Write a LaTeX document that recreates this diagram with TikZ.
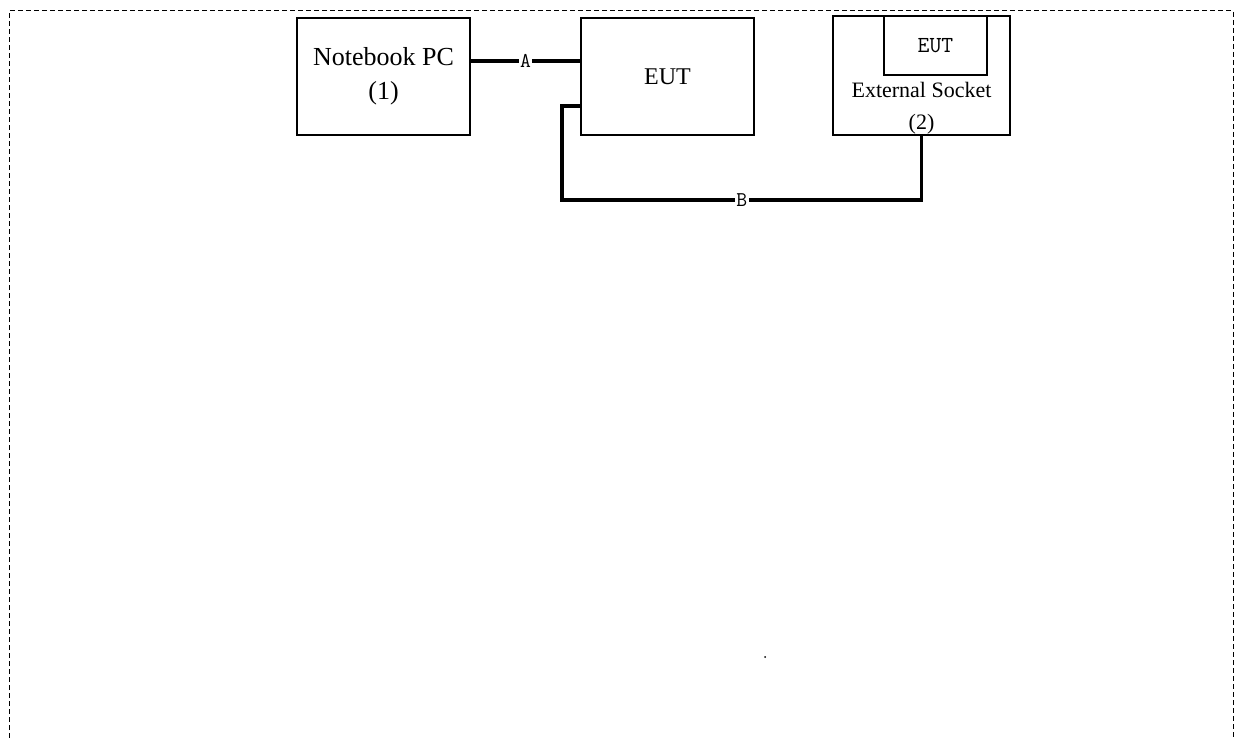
\documentclass[tikz,border=0pt]{standalone}
\usepackage{fontspec}
\setmainfont{Liberation Serif}
\begin{document}
\begin{tikzpicture}[x=1pt,y=-1pt,
  box/.style={draw,line width=1.3pt,rectangle,inner sep=0pt},
  conn/.style={line width=3.2pt},
  lbl/.style={fill=white,inner sep=1.5pt,font=\ttfamily\fontsize{21}{21}\selectfont},
  border/.style={line width=1pt,dash pattern=on 5pt off 3pt}]
\useasboundingbox (0,0) rectangle (1235,738);
\draw[border] (9,738) -- (9,11) -- (1233,11) -- (1233,738);
\node[box,minimum width=173pt,minimum height=117pt,align=center,
  font=\fontsize{26}{34}\selectfont] (nb) at (383.5,76.5) {Notebook PC\\(1)};
\node[box,minimum width=173pt,minimum height=117pt,
  font=\fontsize{24}{28}\selectfont] (eut) at (667.5,76.5) {EUT};
\node[box,minimum width=177pt,minimum height=119pt] (sock) at (921.5,75.5) {};
\node[box,minimum width=103pt,minimum height=59pt,
  font=\ttfamily\fontsize{23}{24}\selectfont] (ineut) at (935.5,45.5) {EUT};
\node[align=center,inner sep=0pt,font=\fontsize{22}{32}\selectfont] (socktxt) at (921.5,108) {External Socket\\(2)};
\coordinate (ya) at (0,61);
\draw[conn] (nb.east |- ya) -- node[lbl]{A} (eut.west |- ya);
\coordinate (b1) at (562,106);
\coordinate (b2) at (0,200);
\draw[conn] (eut.west |- b1) -- (b1) |- node[lbl,pos=0.75]{B} (sock.south |- b2) -- (sock.south);
\fill (765,657) circle (1pt);
\end{tikzpicture}
\end{document}
